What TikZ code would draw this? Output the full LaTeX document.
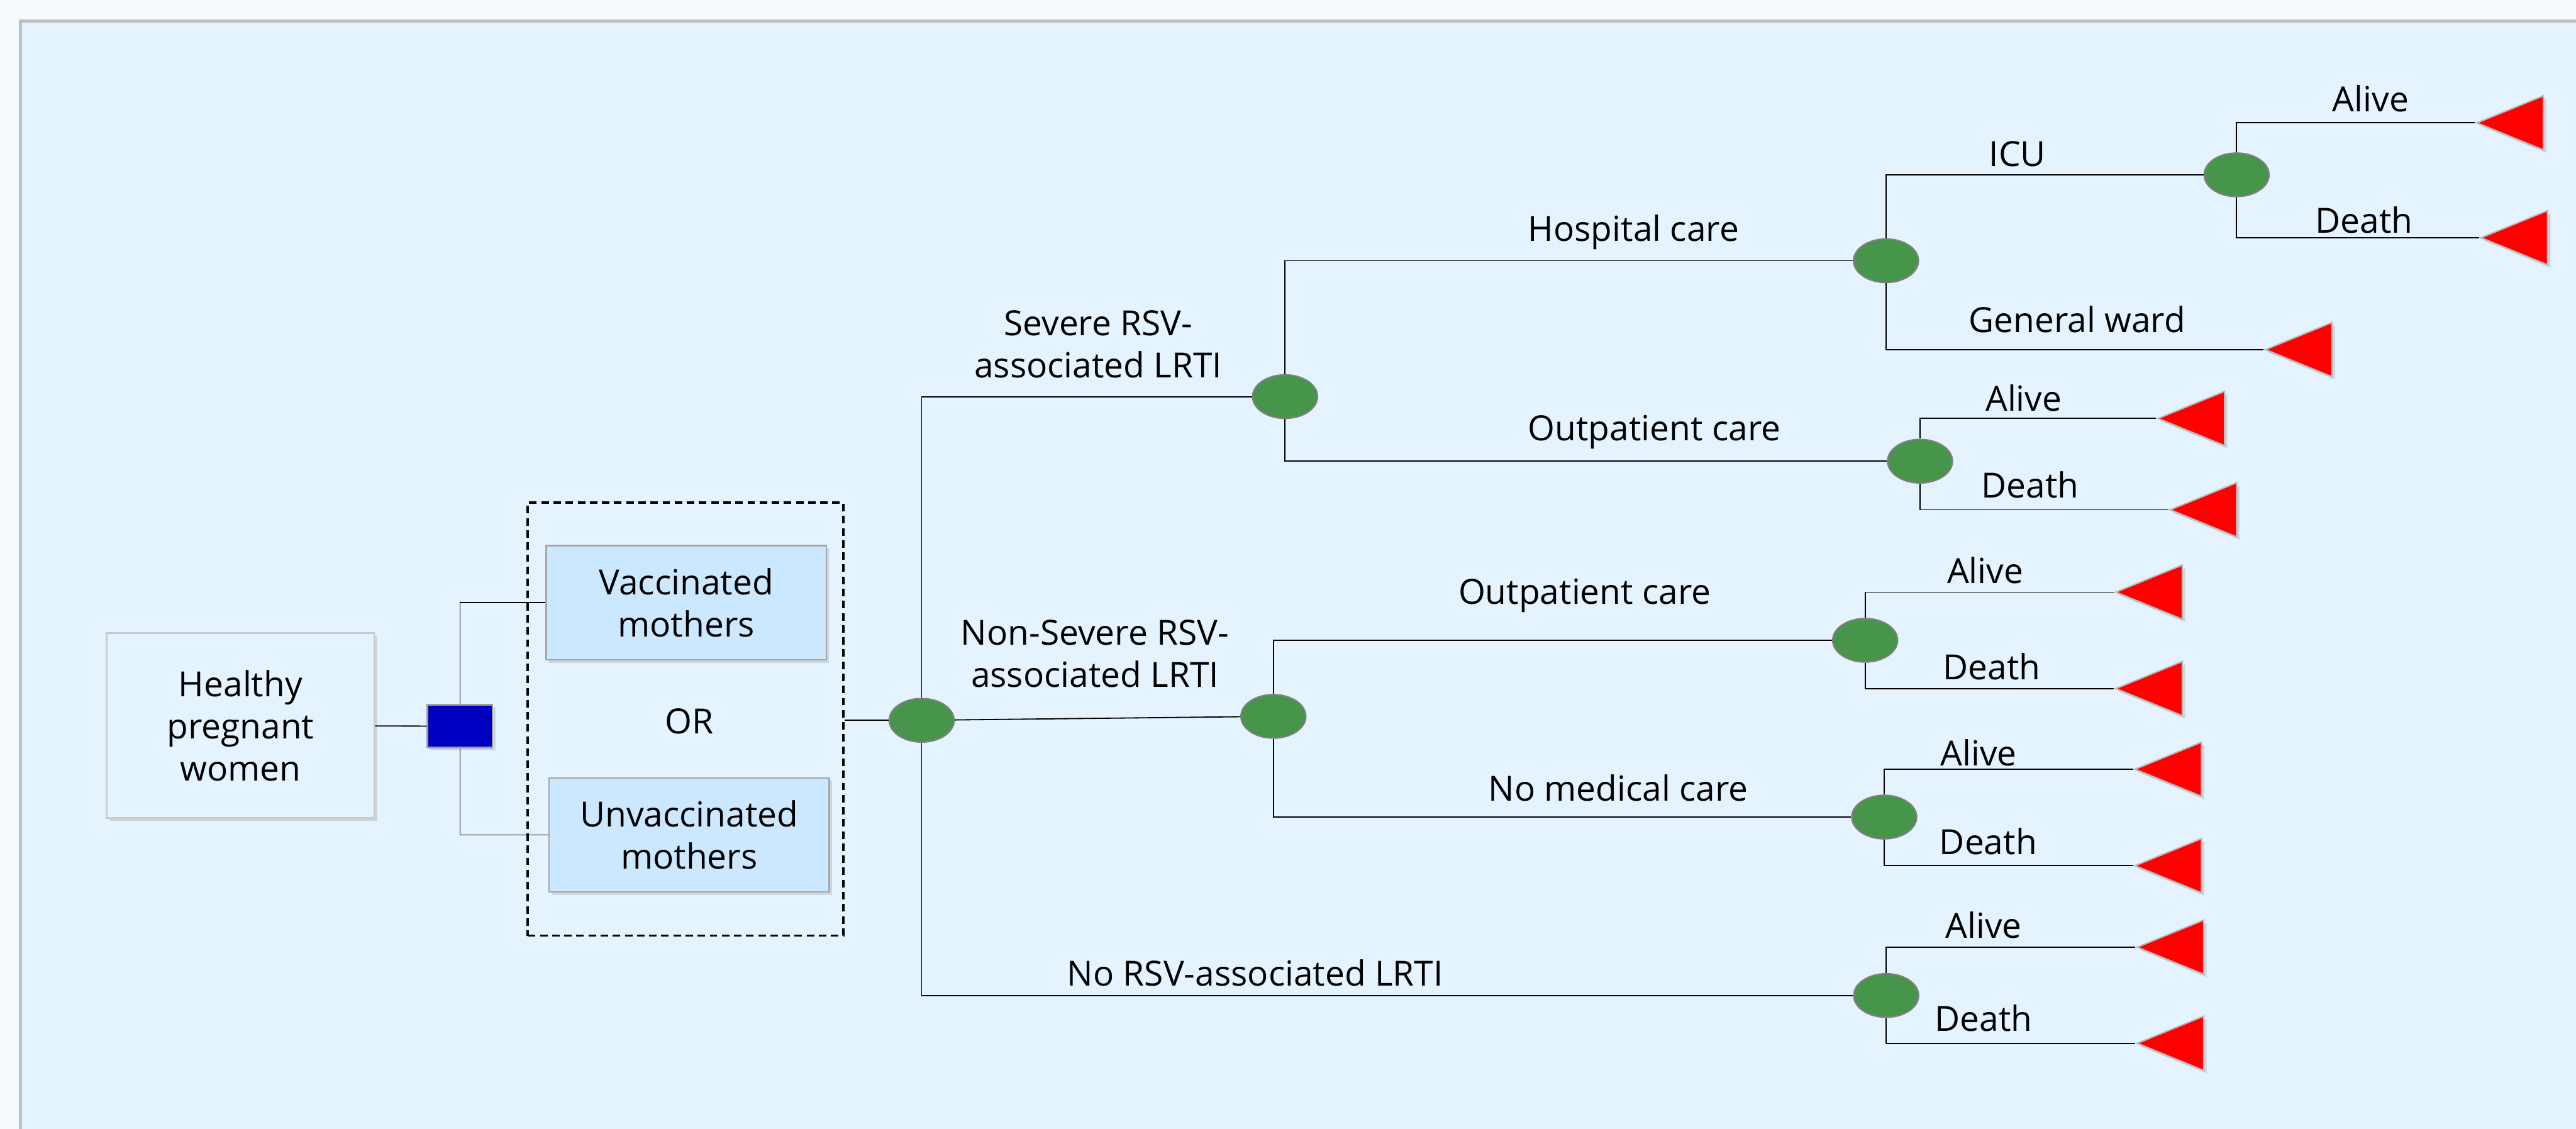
\documentclass[tikz,border=0pt]{standalone}
\usepackage{fontspec}
\setmainfont{Open Sans}
\usepackage{tikz}
\usetikzlibrary{shapes.geometric,shadows}
\definecolor{pagebg}{HTML}{F5FAFF}
\definecolor{panelbg}{HTML}{E5F3FF}
\definecolor{panelline}{HTML}{C0C0C0}
\definecolor{boxfill}{HTML}{CCE8FF}
\definecolor{chancegreen}{HTML}{46954A}
\definecolor{decisionblue}{HTML}{0000C0}
\tikzset{
    every node/.style={font=\fontsize{12}{14.6}\selectfont},
    softshadow/.style={drop shadow={opacity=0.25, shadow xshift=0.35mm, shadow yshift=-0.35mm}},
    branch/.style={draw=black, line width=0.4pt},
    startbox/.style={draw=panelline!85, fill=panelbg, line width=0.5pt, align=center,
        minimum width=32.6mm, minimum height=22.5mm, softshadow},
    armbox/.style={draw=gray!70, fill=boxfill, line width=0.5pt, align=center,
        minimum width=34.1mm, minimum height=13.9mm, softshadow},
    decision/.style={draw=gray!75, fill=decisionblue, line width=0.6pt,
        minimum width=7.9mm, minimum height=5.2mm, inner sep=0pt, softshadow},
    chance/.style={ellipse, draw=gray, fill=chancegreen, line width=0.5pt,
        minimum width=7.9mm, minimum height=5.3mm, inner sep=0pt},
    leaf/.style={isosceles triangle, shape border rotate=180, isosceles triangle stretches,
        minimum width=6.6mm, minimum height=8.1mm, inner sep=0pt, anchor=apex,
        fill=red, draw=gray!55, line width=0.5pt, softshadow},
    lbl/.style={anchor=base, inner sep=0pt},
}

\begin{document}
\begin{tikzpicture}[x=0.2mm, y=-0.2mm]
\useasboundingbox (0,0) rectangle (1568,687);
\fill[pagebg] (0,0) rectangle (1568,687);
\begin{scope}
\clip (0,0) rectangle (1568,687);
\draw[panelline, fill=panelbg, line width=1.1pt] (12.4,12.9) rectangle (1600,720);
\end{scope}

% left part
\node[startbox] (hpw) at (146.4,441.6) {Healthy\\pregnant\\women};
\node[decision] (dec) at (280,442) {};
\node[draw, dash pattern=on 2.6pt off 1.6pt, line width=0.8pt, minimum width=38.4mm,
    minimum height=52.7mm, inner sep=0pt] (orbox) at (417.3,437.7) {};
\node[armbox] (vac) at (417.7,366.8) {Vaccinated\\mothers};
\node[armbox] (unvac) at (419.5,508.2) {Unvaccinated\\mothers};
\node (or) at (419.4,439) {OR};

\draw[branch] (hpw) -- (dec);
\draw[branch] (dec) |- (vac);
\draw[branch] (dec) |- (unvac);

% chance nodes
\node[chance] (root) at (561,438.4) {};
\node[chance] (sev) at (782.2,241.4) {};
\node[chance] (nsev) at (775.1,436) {};
\node[chance] (norsv) at (1148.1,605.9) {};
\node[chance] (hosp) at (1148,158.7) {};
\node[chance] (outS) at (1168.7,280.7) {};
\node[chance] (icu) at (1361.4,106.4) {};
\node[chance] (outN) at (1135.3,389.7) {};
\node[chance] (nomed) at (1146.9,497.3) {};

% terminal nodes
\node[leaf] (icuA) at (1506.5,74.8) {};
\node[leaf] (icuD) at (1509,144.7) {};
\node[leaf] (gw) at (1377.8,212.8) {};
\node[leaf] (osA) at (1312.4,254.7) {};
\node[leaf] (osD) at (1319.8,310.3) {};
\node[leaf] (onA) at (1286.7,360.4) {};
\node[leaf] (onD) at (1286.7,419.1) {};
\node[leaf] (nmA) at (1298.4,468.2) {};
\node[leaf] (nmD) at (1298.4,526.9) {};
\node[leaf] (nrA) at (1299.7,576.5) {};
\node[leaf] (nrD) at (1299.7,635) {};

\draw[branch] (orbox.east |- root) -- (root);
\draw[branch] (root) |- (sev);
\draw[branch] (root) -- (nsev);
\draw[branch] (root) |- (norsv);
\draw[branch] (sev) |- (hosp);
\draw[branch] (sev) |- (outS);
\draw[branch] (hosp) |- (icu);
\draw[branch] (hosp) |- (gw.apex);
\draw[branch] (icu) |- (icuA.apex);
\draw[branch] (icu) |- (icuD.apex);
\draw[branch] (outS) |- (osA.apex);
\draw[branch] (outS) |- (osD.apex);
\draw[branch] (nsev) |- (outN);
\draw[branch] (nsev) |- (nomed);
\draw[branch] (outN) |- (onA.apex);
\draw[branch] (outN) |- (onD.apex);
\draw[branch] (nomed) |- (nmA.apex);
\draw[branch] (nomed) |- (nmD.apex);
\draw[branch] (norsv) |- (nrA.apex);
\draw[branch] (norsv) |- (nrD.apex);

% branch labels
\node[align=center] (sevL) at (668.5,209.6) {Severe RSV-\\associated LRTI};
\node[align=center] (nsevL) at (666.5,398) {Non-Severe RSV-\\associated LRTI};
\node[lbl] (norsvL) at (764,600) {No RSV-associated LRTI};
\node[lbl] (hospL) at (994.3,146.8) {Hospital care};
\node[lbl] (outSL) at (1007,268.3) {Outpatient care};
\node[lbl] (outNL) at (964.6,367.8) {Outpatient care};
\node[lbl] (nomedL) at (985,487.4) {No medical care};
\node[lbl] (icuL) at (1228,101.1) {ICU};
\node[lbl] (gwL) at (1264.3,202.3) {General ward};
\node[lbl] (icuAL) at (1443,68.1) {Alive};
\node[lbl] (icuDL) at (1439,141.9) {Death};
\node[lbl] (osAL) at (1231.8,250.1) {Alive};
\node[lbl] (osDL) at (1235.8,303.1) {Death};
\node[lbl] (onAL) at (1208.4,354.9) {Alive};
\node[lbl] (onDL) at (1212.4,413.6) {Death};
\node[lbl] (nmAL) at (1204.3,466.1) {Alive};
\node[lbl] (nmDL) at (1210.2,520.2) {Death};
\node[lbl] (nrAL) at (1207.4,570.8) {Alive};
\node[lbl] (nrDL) at (1207.4,627.8) {Death};
\end{tikzpicture}
\end{document}
